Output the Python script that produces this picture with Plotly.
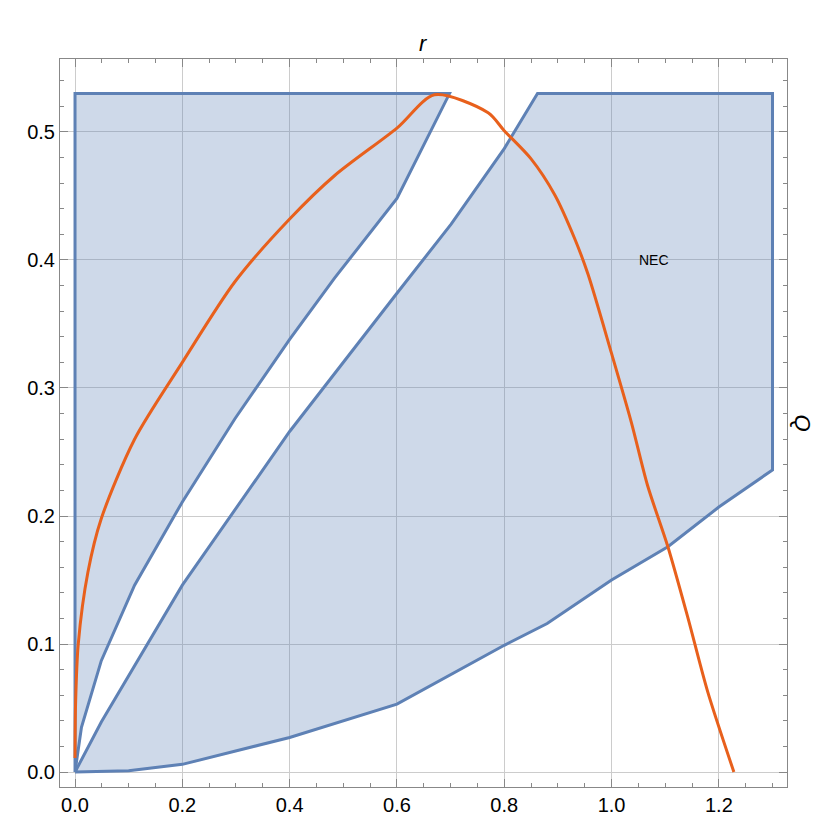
import plotly.graph_objects as go

# region 1: between the left edge and curve A
a_x = [0.0, 0.0, 0.698, 0.6, 0.484, 0.4, 0.298, 0.2, 0.111, 0.049, 0.012, 0.0]
a_y = [0.0, 0.53, 0.53, 0.448, 0.386, 0.338, 0.276, 0.211, 0.146, 0.087, 0.035, 0.0]

# region 2: between curve B and curve C
b_x = [0.0, 0.049, 0.2, 0.4, 0.6, 0.701, 0.8, 0.862, 1.30, 1.30,
       1.2, 1.105, 1.0, 0.88, 0.8, 0.6, 0.4, 0.2, 0.1, 0.0]
b_y = [0.0, 0.039, 0.146, 0.266, 0.374, 0.428, 0.487, 0.53, 0.53, 0.236,
       0.207, 0.176, 0.15, 0.116, 0.099, 0.053, 0.027, 0.006, 0.001, 0.0]

# orange curve
o_x = [0.0, 0.001, 0.006, 0.024, 0.049, 0.111, 0.2, 0.298, 0.4, 0.484, 0.6, 0.67,
       0.77, 0.8, 0.85, 0.894, 0.931, 0.956, 1.0, 1.037, 1.067, 1.105, 1.142, 1.179, 1.228]
o_y = [0.011, 0.053, 0.1, 0.156, 0.198, 0.26, 0.32, 0.383, 0.432, 0.466, 0.503, 0.529,
       0.515, 0.501, 0.479, 0.451, 0.417, 0.389, 0.327, 0.273, 0.224, 0.176, 0.121, 0.063, 0.0]

blue = "#5E81B5"
fill = "rgba(94,129,181,0.3)"

fig = go.Figure()
for xs, ys in [(a_x, a_y), (b_x, b_y)]:
    fig.add_trace(go.Scatter(x=xs, y=ys, mode="lines", fill="toself", fillcolor=fill,
                             line=dict(color=blue, width=3), hoverinfo="skip"))
fig.add_trace(go.Scatter(x=o_x, y=o_y, mode="lines",
                         line=dict(color="#E8601C", width=3, shape="spline", smoothing=0.8)))

fig.add_annotation(x=1.08, y=0.4, text="NEC", showarrow=False, font=dict(size=14, color="black"))
fig.add_annotation(x=0.5, y=1.0, xref="paper", yref="paper", yshift=30, text="<i>r</i>",
                   showarrow=False, font=dict(size=22, color="black"))
fig.add_annotation(x=1.0, y=0.5, xref="paper", yref="paper", xshift=30, text="<i>Q</i>",
                   textangle=90, showarrow=False, font=dict(size=22, color="black"))

ax = dict(showline=True, linecolor="#888", mirror="allticks", gridcolor="#ccc", zeroline=False,
          ticks="inside", ticklen=8, tickcolor="#888", tickfont=dict(size=20, color="black"))
fig.update_xaxes(range=[-0.028, 1.327], tickvals=[0, 0.2, 0.4, 0.6, 0.8, 1.0, 1.2],
                 tickformat=".1f",
                 minor=dict(ticks="inside", ticklen=4, tickcolor="#888", dtick=0.05, tick0=0,
                            showgrid=False), **ax)
fig.update_yaxes(range=[-0.0117, 0.557], tickvals=[0, 0.1, 0.2, 0.3, 0.4, 0.5],
                 tickformat=".1f",
                 minor=dict(ticks="inside", ticklen=4, tickcolor="#888", dtick=0.02, tick0=0,
                            showgrid=False), **ax)
fig.update_layout(width=830, height=824, showlegend=False, plot_bgcolor="white",
                  paper_bgcolor="white", margin=dict(l=52, r=51, t=51, b=45),
                  font=dict(family="Liberation Sans"))
fig.write_html("out.html")
